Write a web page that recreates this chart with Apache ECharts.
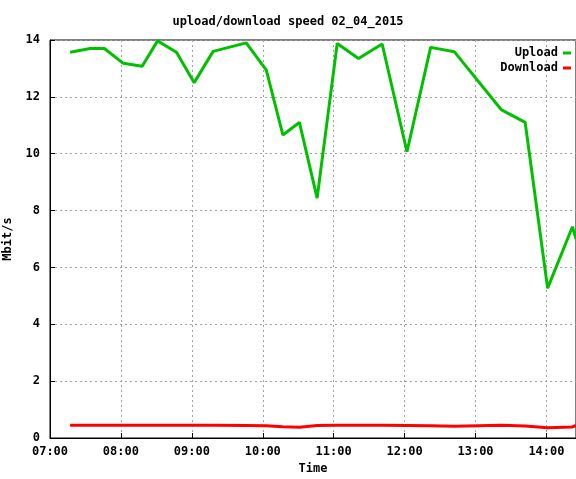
<!DOCTYPE html>
<html>
<head>
<meta charset="utf-8">
<script src="https://cdn.jsdelivr.net/npm/echarts@6/dist/echarts.min.js"></script>
<style>
    html, body { margin: 0; padding: 0; background: #fff; }
    #chart { width: 576px; height: 479px; }
</style>
</head>
<body>
<div id="chart"></div>
<script>
// minutes after 07:00
var times = [17, 34, 46, 62, 78, 91, 107, 122, 138, 166, 183, 197, 211, 226, 243, 261, 281, 302, 322, 342, 382, 402, 421, 442, 445];
var upload = [13.57, 13.7, 13.7, 13.18, 13.08, 13.97, 13.57, 12.5, 13.6, 13.9, 12.94, 10.66, 11.1, 8.44, 13.88, 13.35, 13.86, 10.07, 13.74, 13.59, 11.54, 11.1, 5.27, 7.43, 7.0];
var download = [0.45, 0.45, 0.45, 0.45, 0.45, 0.45, 0.45, 0.45, 0.45, 0.44, 0.43, 0.4, 0.38, 0.44, 0.45, 0.45, 0.45, 0.44, 0.43, 0.41, 0.45, 0.42, 0.36, 0.39, 0.44];
var yTicks = [0, 2, 4, 6, 8, 10, 12, 14];

function pairs(vals) {
    return times.map(function (t, i) { return [t, vals[i]]; });
}

function hhmm(m) {
    var h = 7 + Math.floor(m / 60), mm = m % 60;
    return (h < 10 ? '0' : '') + h + ':' + (mm < 10 ? '0' : '') + mm;
}

var font = 'DejaVu Sans Mono';
var txt = { fontFamily: font, fontSize: 12, fontWeight: 'bold', color: '#000' };
var chart = echarts.init(document.getElementById('chart'));
chart.setOption({
    animation: false,
    title: { text: 'upload/download speed 02_04_2015', left: 'center', top: 11, textStyle: txt },
    legend: {
        orient: 'vertical', right: 0, top: 42, align: 'right', itemGap: 3,
        itemWidth: 8, itemHeight: 3, icon: 'rect', textStyle: txt,
        data: ['Upload', 'Download']
    },
    grid: { left: 50, right: 0, top: 40, bottom: 41, outerBoundsMode: 'none', show: true, borderColor: '#000', borderWidth: 1 },
    xAxis: {
        type: 'value', min: 0, max: 445, interval: 60,
        name: 'Time', nameLocation: 'middle', nameGap: 25, nameTextStyle: txt,
        axisLine: { lineStyle: { color: '#000' } },
        axisTick: { inside: true, length: 5, lineStyle: { color: '#000' } },
        axisLabel: Object.assign({ formatter: hhmm, showMaxLabel: false }, txt),
        splitLine: { lineStyle: { color: '#a0a0a0', type: [2, 3] } }
    },
    yAxis: {
        type: 'value', min: yTicks[0], max: yTicks[yTicks.length - 1], interval: 2,
        name: 'Mbit/s', nameLocation: 'middle', nameGap: 36, nameTextStyle: txt,
        axisLine: { show: true, lineStyle: { color: '#000' } },
        axisTick: { show: true, inside: true, length: 5, lineStyle: { color: '#000' } },
        axisLabel: Object.assign({ margin: 10 }, txt),
        splitLine: { lineStyle: { color: '#a0a0a0', type: [2, 3] } }
    },
    series: [
        { name: 'Upload', type: 'line', data: pairs(upload), showSymbol: false, color: '#00c000', lineStyle: { width: 3 } },
        { name: 'Download', type: 'line', data: pairs(download), showSymbol: false, color: '#ff0000', lineStyle: { width: 3 } }
    ]
});
</script>
</body>
</html>
